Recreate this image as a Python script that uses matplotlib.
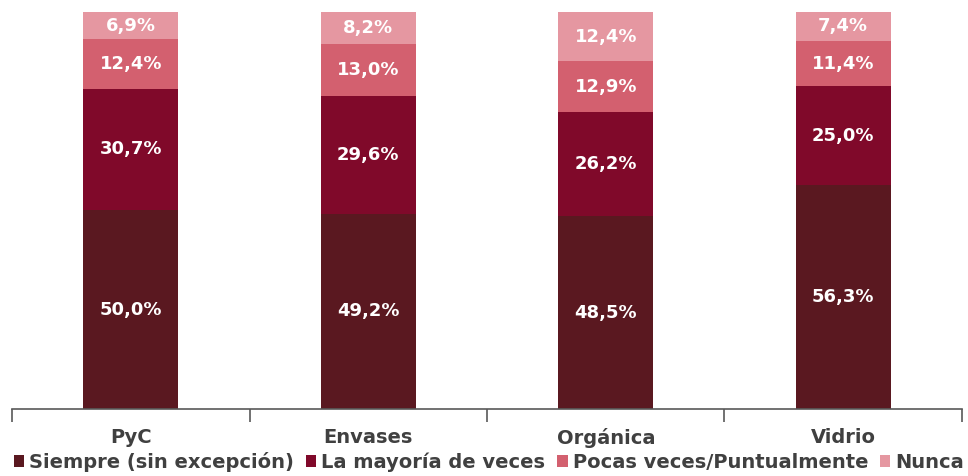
import matplotlib.pyplot as plt
import numpy as np

# datos
categorias = ["PyC", "Envases", "Orgánica", "Vidrio"]
series = ["Siempre (sin excepción)", "La mayoría de veces", "Pocas veces/Puntualmente", "Nunca"]
siempre = [50.0, 49.2, 48.5, 56.3]
mayoria = [30.7, 29.6, 26.2, 25.0]
pocas = [12.4, 13.0, 12.9, 11.4]
nunca = [6.9, 8.2, 12.4, 7.4]
colores = ["#5A1820", "#80092A", "#D3606F", "#E597A1"]

plt.rcParams["font.family"] = ["DejaVu Sans"]

fig = plt.figure(figsize=(9.68, 4.76), dpi=100)
ax = fig.add_axes([0.0124, 0.1408, 0.9814, 0.8342])

x = np.arange(len(categorias))
base = np.zeros(len(categorias))
for nombre, vals, col in zip(series, [siempre, mayoria, pocas, nunca], colores):
    bars = ax.bar(x, vals, 0.4, bottom=base, color=col, label=nombre, linewidth=0)
    for b, v in zip(bars, vals):
        ax.text(b.get_x() + b.get_width() / 2, b.get_y() + b.get_height() / 2,
                f"{v:.1f}%".replace(".", ","), ha="center", va="center",
                color="white", fontsize=13, fontweight="bold")
    base += np.array(vals)

ax.set_xlim(-0.5, len(categorias) - 0.5)
ax.set_ylim(0, 100)
ax.set_yticks([])
for s in ["top", "right", "left"]:
    ax.spines[s].set_visible(False)
ax.spines["bottom"].set_color("#595959")
ax.spines["bottom"].set_linewidth(1.2)

ax.set_xticks(x)
ax.set_xticklabels(categorias, fontsize=14, fontweight="bold", color="#404040")
ax.tick_params(axis="x", which="major", length=0, pad=14)
ax.set_xticks(np.arange(-0.5, len(categorias)), minor=True)
ax.tick_params(axis="x", which="minor", length=9, width=1.2, color="#595959")

fig.legend(loc="center", bbox_to_anchor=(0.505, 0.03), ncol=4, frameon=False,
           prop={"size": 14, "weight": "bold"}, labelcolor="#404040",
           handlelength=0.55, handleheight=0.55, handletextpad=0.25, columnspacing=0.6)

fig.savefig("out.png", dpi=100)
